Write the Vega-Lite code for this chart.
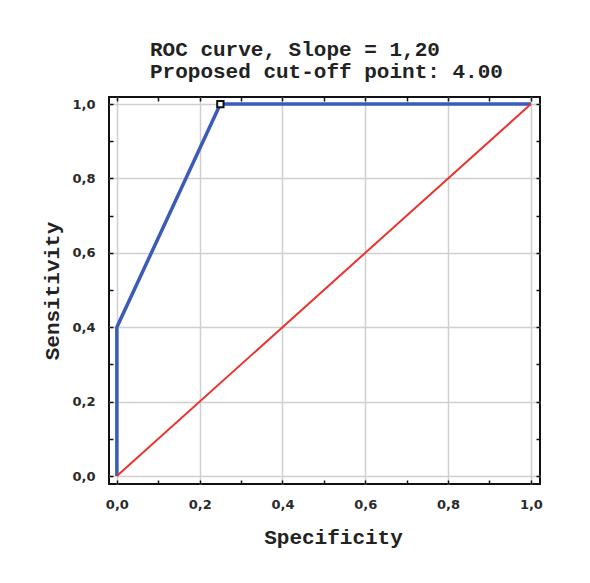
{
  "$schema": "https://vega.github.io/schema/vega-lite/v6.json",
  "width": 431,
  "height": 387,
  "autosize": "none",
  "padding": {"left": 109, "top": 97, "right": 50, "bottom": 99},
  "background": "white",
  "config": {
    "view": {"stroke": "#111111", "strokeWidth": 2},
    "axis": {
      "domain": false,
      "gridColor": "#cfcfcf",
      "gridWidth": 1.5,
      "tickColor": "#111111",
      "tickWidth": 1.5,
      "tickSize": -4,
      "labelFont": "DejaVu Sans",
      "labelFontSize": 13,
      "labelFontWeight": "bold",
      "labelColor": "#2a2a2a",
      "titleFont": "Liberation Mono",
      "titleFontSize": 21,
      "titleFontWeight": "bold",
      "titleColor": "#222222"
    }
  },
  "title": {
    "text": ["ROC curve, Slope = 1,20", "Proposed cut-off point: 4.00"],
    "anchor": "start",
    "frame": "group",
    "dx": 41,
    "offset": 14,
    "font": "Liberation Mono",
    "fontSize": 21,
    "fontWeight": "bold",
    "color": "#222222",
    "lineHeight": 22
  },
  "datasets": {
    "roc": [
      {"i": 1, "x": 0, "y": 0},
      {"i": 2, "x": 0, "y": 0.4},
      {"i": 3, "x": 0.25, "y": 1},
      {"i": 4, "x": 1, "y": 1}
    ],
    "diag": [
      {"i": 1, "x": 0, "y": 0},
      {"i": 2, "x": 1, "y": 1}
    ],
    "cut": [
      {"x": 0.25, "y": 1}
    ]
  },
  "layer": [
    {
      "data": {"name": "roc"},
      "mark": {"type": "line", "color": "#3a5bb8", "strokeWidth": 3.5},
      "encoding": {
        "x": {
          "field": "x", "type": "quantitative",
          "scale": {"domain": [-0.019, 1.022], "nice": false, "zero": false},
          "axis": {
            "title": "Specificity",
            "values": [0, 0.1, 0.2, 0.3, 0.4, 0.5, 0.6, 0.7, 0.8, 0.9, 1.0],
            "labelExpr": "round(datum.value*10) % 2 == 1 ? '' : replace(format(datum.value, '.1f'), '.', ',')",
            "gridOpacity": {"condition": {"test": "round(datum.value*10) % 2 == 1", "value": 0}, "value": 1},
            "labelPadding": 18,
            "titlePadding": 15,
            "titleX": 224
          }
        },
        "y": {
          "field": "y", "type": "quantitative",
          "scale": {"domain": [-0.0215, 1.019], "nice": false, "zero": false},
          "axis": {
            "title": "Sensitivity",
            "values": [0, 0.1, 0.2, 0.3, 0.4, 0.5, 0.6, 0.7, 0.8, 0.9, 1.0],
            "labelExpr": "round(datum.value*10) % 2 == 1 ? '' : replace(format(datum.value, '.1f'), '.', ',')",
            "gridOpacity": {"condition": {"test": "round(datum.value*10) % 2 == 1", "value": 0}, "value": 1},
            "labelPadding": 18,
            "titlePadding": 9
          }
        },
        "order": {"field": "i", "type": "quantitative"}
      }
    },
    {
      "data": {"name": "diag"},
      "mark": {"type": "line", "color": "#e8342e", "strokeWidth": 2},
      "encoding": {
        "x": {
          "field": "x", "type": "quantitative",
          "axis": {"orient": "top", "title": null, "labels": false, "grid": false,
                   "values": [0, 0.1, 0.2, 0.3, 0.4, 0.5, 0.6, 0.7, 0.8, 0.9, 1.0]}
        },
        "y": {
          "field": "y", "type": "quantitative",
          "axis": {"orient": "right", "title": null, "labels": false, "grid": false,
                   "values": [0, 0.1, 0.2, 0.3, 0.4, 0.5, 0.6, 0.7, 0.8, 0.9, 1.0]}
        },
        "order": {"field": "i", "type": "quantitative"}
      }
    },
    {
      "data": {"name": "cut"},
      "mark": {"type": "point", "shape": "square", "filled": true, "fill": "white", "stroke": "#111111", "strokeWidth": 2, "size": 40, "opacity": 1},
      "encoding": {
        "x": {"field": "x", "type": "quantitative", "axis": null},
        "y": {"field": "y", "type": "quantitative", "axis": null}
      }
    }
  ],
  "resolve": {"axis": {"x": "independent", "y": "independent"}}
}
